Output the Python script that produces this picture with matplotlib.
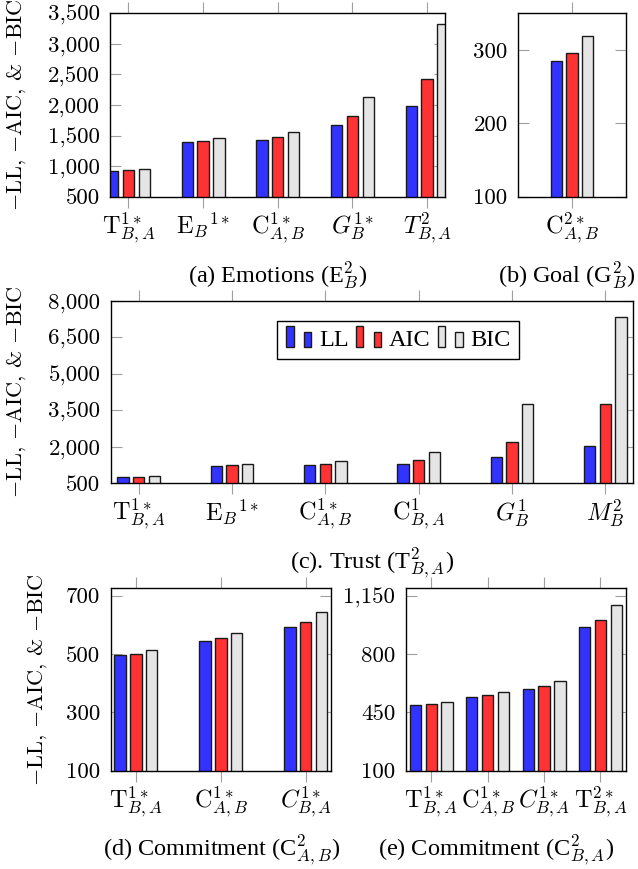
import matplotlib
matplotlib.use('Agg')
import matplotlib.pyplot as plt
import numpy as np
from matplotlib.patches import Rectangle, Patch
from matplotlib.legend_handler import HandlerBase

plt.rcParams['font.family'] = ['Liberation Serif', 'DejaVu Serif']
plt.rcParams['mathtext.fontset'] = 'cm'

# ---------------- data ----------------
series = ['LL', 'AIC', 'BIC']

emotions_labels = [r'$\mathrm{T}^{1*}_{B,A}$', r'$\mathrm{E}_{B}{}^{1*}$', r'$\mathrm{C}^{1*}_{A,B}$',
                   r'$G^{1*}_{B}$', r'$T^{2}_{B,A}$']
emotions_ll = [925, 1389, 1433, 1667, 1989]
emotions_aic = [936, 1411, 1471, 1815, 2425]
emotions_bic = [958, 1460, 1558, 2125, 3331]
emotions_yticks = [500, 1000, 1500, 2000, 2500, 3000, 3500]

goal_labels = [r'$\mathrm{C}^{2*}_{A,B}$']
goal_ll = [285]
goal_aic = [296]
goal_bic = [319]
goal_yticks = [100, 200, 300]

trust_labels = [r'$\mathrm{T}^{1*}_{B,A}$', r'$\mathrm{E}_{B}{}^{1*}$', r'$\mathrm{C}^{1*}_{A,B}$',
                r'$\mathrm{C}^{1}_{B,A}$', r'$G^{1}_{B}$', r'$M^{2}_{B}$']
trust_ll = [745, 1209, 1250, 1305, 1591, 2014]
trust_aic = [759, 1236, 1305, 1455, 2178, 3760]
trust_bic = [786, 1291, 1400, 1768, 3760, 7320]
trust_yticks = [500, 2000, 3500, 5000, 6500, 8000]

commit_ab_labels = [r'$\mathrm{T}^{1*}_{B,A}$', r'$\mathrm{C}^{1*}_{A,B}$', r'$C^{1*}_{B,A}$']
commit_ab_ll = [495, 546, 593]
commit_ab_aic = [500, 554, 609]
commit_ab_bic = [513, 573, 643]
commit_ab_yticks = [100, 300, 500, 700]

commit_ba_labels = [r'$\mathrm{T}^{1*}_{B,A}$', r'$\mathrm{C}^{1*}_{A,B}$', r'$C^{1*}_{B,A}$',
                    r'$\mathrm{T}^{2*}_{B,A}$']
commit_ba_ll = [494, 544, 590, 964]
commit_ba_aic = [500, 552, 606, 1004]
commit_ba_bic = [510, 570, 640, 1092]
commit_ba_yticks = [100, 450, 800, 1150]

# ---------------- style ----------------
COLORS = ['#3333ff', '#ff3333', '#e5e5e5']
EDGE = '#1a1a1a'
TICKC = '#a0a0a0'
FS_Y = 16.5
FS_X = 17.5
FS_CAP = 17.5
FS_LEG = 17.5
FS_YLAB = 16
BAR_W_PX = 11.3
STEP_PX = 15.8

W, H = 638, 869
fig = plt.figure(figsize=(W / 100, H / 100), dpi=100)


def add_ax(l, t, r, b):
    return fig.add_axes([l / W, 1 - b / H, (r - l) / W, (b - t) / H])


def fmt(v):
    return f'{v:,}'


def panel(rect, labels, vals_list, ylim, yticks, margin):
    ax = add_ax(*rect)
    n = len(labels)
    x = np.arange(n)
    lo, hi = -margin, n - 1 + margin
    ax.set_xlim(lo, hi)
    ax.set_ylim(*ylim)
    ppu = (rect[2] - rect[0]) / (hi - lo)
    bw = BAR_W_PX / ppu
    step = STEP_PX / ppu
    for k, (vals, color) in enumerate(zip(vals_list, COLORS)):
        ax.bar(x + (k - 1) * step, vals, width=bw, color=color, edgecolor=EDGE,
               linewidth=1.0, zorder=2)
    ax.set_xticks(x)
    ax.set_xticklabels(labels, fontsize=FS_X)
    ax.set_yticks(yticks)
    ax.set_yticklabels([fmt(v) for v in yticks], fontfamily='cmr10', fontsize=FS_Y)
    ax.tick_params(axis='x', direction='out', top=True, bottom=True, length=8,
                   color=TICKC, width=0.8, pad=2)
    ax.tick_params(axis='y', direction='in', left=True, right=True, length=8,
                   color=TICKC, width=0.8, pad=7.5)
    for s in ax.spines.values():
        s.set_linewidth(1.0)
        s.set_color('black')
        s.set_zorder(3)
    return ax


ax_a = panel((110.5, 13.3, 445, 196.7), emotions_labels,
             [emotions_ll, emotions_aic, emotions_bic], (500, 3500), emotions_yticks, 0.239)
ax_b = panel((518, 13.3, 626, 196.7), goal_labels,
             [goal_ll, goal_aic, goal_bic], (100, 350), goal_yticks, 0.723)
ax_c = panel((110.7, 300.7, 633.3, 483.3), trust_labels,
             [trust_ll, trust_aic, trust_bic], (500, 8000), trust_yticks, 0.30)
ax_d = panel((110.7, 588.3, 331, 770.7), commit_ab_labels,
             [commit_ab_ll, commit_ab_aic, commit_ab_bic], (100, 725), commit_ab_yticks, 0.296)
ax_e = panel((405.7, 588.3, 626, 770.7), commit_ba_labels,
             [commit_ba_ll, commit_ba_aic, commit_ba_bic], (100, 1194), commit_ba_yticks, 0.453)


# legend with two-bar icons (pgfplots ybar legend style)
class TwoBarHandler(HandlerBase):
    def create_artists(self, legend, orig_handle, xdescent, ydescent, width, height,
                       fontsize, trans):
        fc = orig_handle.get_facecolor()
        ec = orig_handle.get_edgecolor()
        w = width * 0.3
        y0 = -ydescent - 0.12 * height
        r1 = Rectangle((-xdescent, y0), w, 1.3 * height, facecolor=fc, edgecolor=ec,
                       linewidth=1.0, transform=trans)
        r2 = Rectangle((-xdescent + width - w, y0), w, 0.95 * height, facecolor=fc,
                       edgecolor=ec, linewidth=1.0, transform=trans)
        return [r1, r2]


handles = [Patch(facecolor=c, edgecolor=EDGE) for c in COLORS]
leg = ax_c.legend(handles, series, loc='center', bbox_to_anchor=(398.3 / W, 1 - 340 / H),
                  bbox_transform=fig.transFigure, ncol=3, fontsize=FS_LEG,
                  handler_map={Patch: TwoBarHandler()}, frameon=True, fancybox=False,
                  edgecolor='black', framealpha=1, handlelength=1.05, handleheight=0.65,
                  handletextpad=0.3, columnspacing=0.3, borderpad=0.35)
leg.get_frame().set_linewidth(1.0)
leg.set_zorder(5)

# y labels
ylab = r'$-$LL, $-$AIC, & $-$BIC'
for (xc, yc) in [(17, 105), (17, 392), (37.5, 679.5)]:
    fig.text(xc / W, 1 - yc / H, ylab, rotation=90, ha='center', va='center',
             fontfamily='cmr10', fontsize=FS_YLAB)

# captions
captions = [
    (277.5, 275, r'(a) Emotions (E$^{2}_{B}$)'),
    (566.7, 275, r'(b) Goal (G$^{2}_{B}$)'),
    (372, 563, r'(c). Trust (T$^{2}_{B,A}$)'),
    (221.7, 850, r'(d) Commitment (C$^{2}_{A,B}$)'),
    (496, 850, r'(e) Commitment (C$^{2}_{B,A}$)'),
]
for xc, yc, t in captions:
    fig.text(xc / W, 1 - yc / H, t, ha='center', va='center', fontsize=FS_CAP)

fig.savefig('out.png', dpi=100)
